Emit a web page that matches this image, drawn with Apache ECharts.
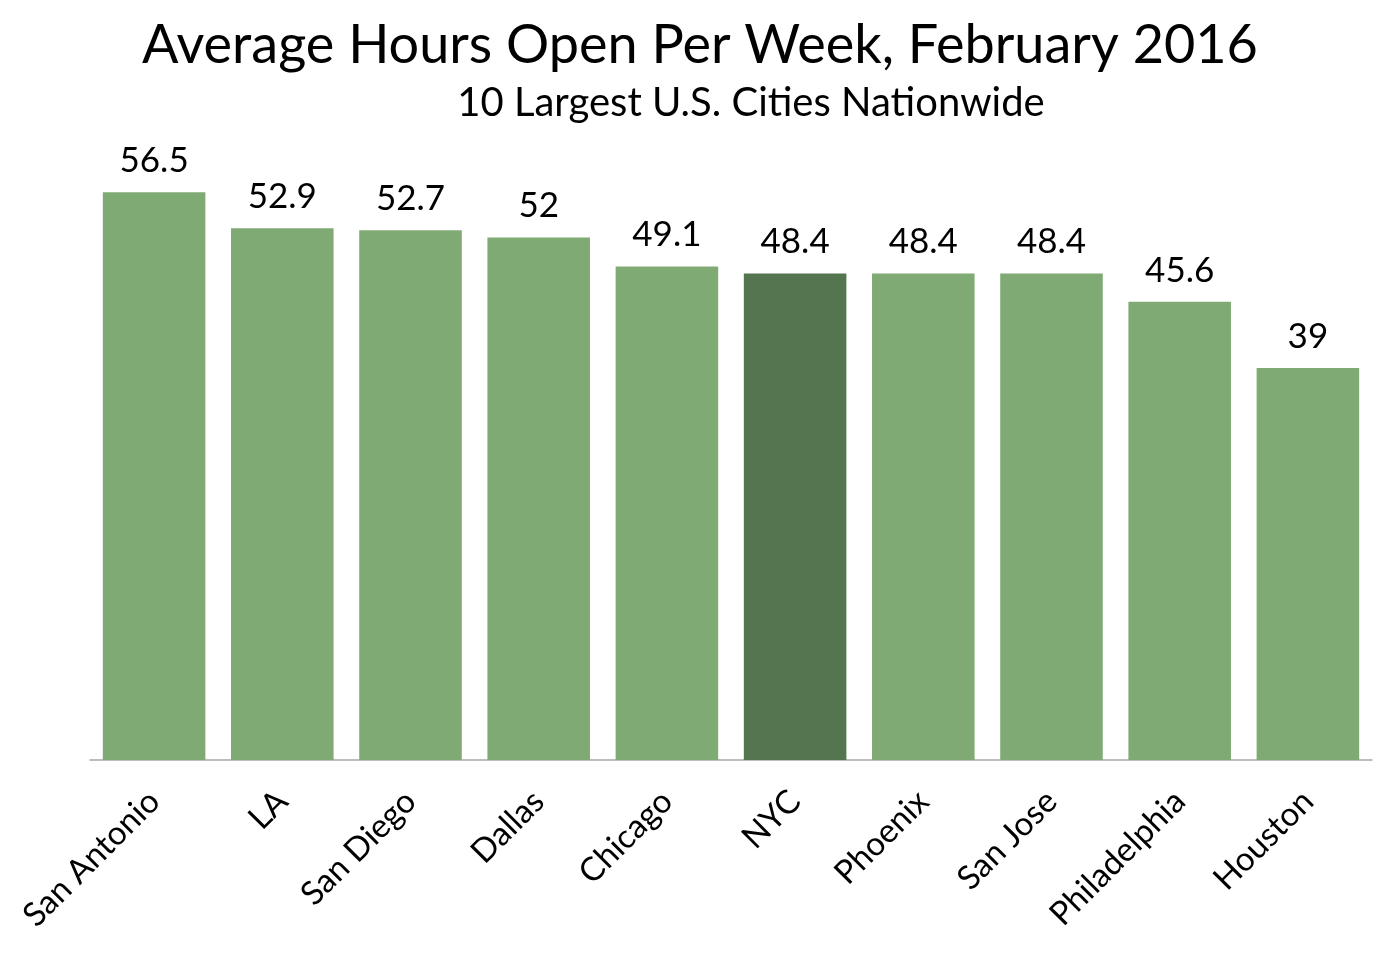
<!DOCTYPE html>
<html><head><meta charset="utf-8">
<script src="https://cdn.jsdelivr.net/npm/echarts@6/dist/echarts.min.js"></script>
<style>html,body{margin:0;padding:0;background:#fff}#c{width:1400px;height:954px}</style>
</head><body><div id="c"></div>
<script>
const categories = ["San Antonio","LA","San Diego","Dallas","Chicago","NYC","Phoenix","San Jose","Philadelphia","Houston"];
const hours = [56.5, 52.9, 52.7, 52, 49.1, 48.4, 48.4, 48.4, 45.6, 39];
const highlightCity = "NYC";

const FONT = "Lato, 'Noto Sans', sans-serif";
const chart = echarts.init(document.getElementById('c'));
chart.setOption({
  animation: false,
  backgroundColor: '#fff',
  title: [
    {text: 'Average Hours Open Per Week, February 2016', left: 'center', top: 14,
     textStyle: {fontFamily: FONT, fontSize: 54, fontWeight: 'normal', color: '#000'}},
    {text: '10 Largest U.S. Cities Nationwide', left: 746, textAlign: 'center', top: 78,
     textStyle: {fontFamily: FONT, fontSize: 40, fontWeight: 'normal', color: '#000'}}
  ],
  grid: {left: 90, right: 28, top: 157, bottom: 194, containLabel: false},
  xAxis: {
    type: 'category', data: categories,
    axisLine: {lineStyle: {color: '#a6a6a6', width: 1.5}},
    axisTick: {show: false},
    axisLabel: {rotate: 45, margin: 36, interval: 0, fontFamily: FONT, fontSize: 33, color: '#000'}
  },
  yAxis: {type: 'value', min: 0, max: 60, show: false, splitLine: {show: false}},
  series: [{
    type: 'bar', barCategoryGap: '20%',
    data: hours.map((v, i) => ({value: v, itemStyle: {color: categories[i] === highlightCity ? '#557551' : '#80aa74'}})),
    label: {show: true, position: 'top', distance: 14, fontFamily: FONT, fontSize: 35, color: '#000'}
  }]
});
</script></body></html>
